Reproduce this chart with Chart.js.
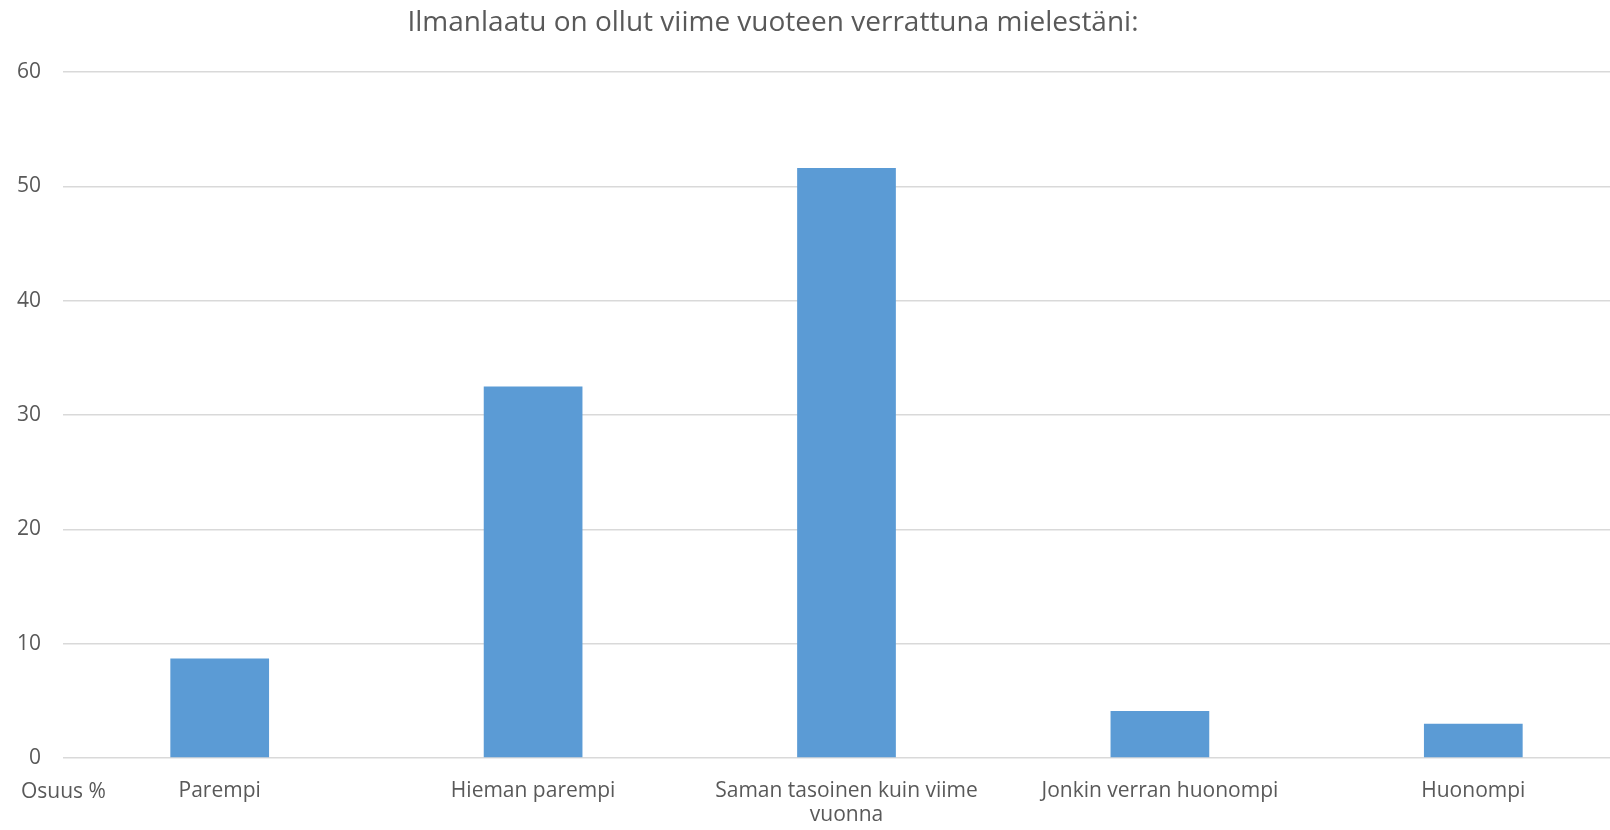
<!DOCTYPE html>
<html>
<head>
<meta charset="utf-8">
<script src="https://cdn.jsdelivr.net/npm/chart.js@4/dist/chart.umd.min.js"></script>
<style>
 html,body{margin:0;padding:0;background:#fff;overflow:hidden;}
 #wrap{width:1640px;height:830px;position:relative;}
</style>
</head>
<body>
<div id="wrap"><canvas id="chart"></canvas></div>
<script>
const categories=[
 "Parempi",
 "Hieman parempi",
 ["Saman tasoinen kuin viime","vuonna"],
 "Jonkin verran huonompi",
 "Huonompi"
];
const shares=[8.7,32.5,51.6,4.1,3.0];
const yTicks=[0,10,20,30,40,50,60];

const chartTitle="Ilmanlaatu on ollut viime vuoteen verrattuna mielestäni:";
const axisNote="Osuus %";

const textColor="#595959";
const fontFam="'Open Sans', sans-serif";

// title and axis note drawn by hand: the plot runs past the right edge,
// so the title is not centred on the canvas
const textPlugin={
 id:"extraText",
 afterDraw(c){
   const ctx=c.ctx;
   ctx.save();
   ctx.fillStyle=textColor;
   ctx.textBaseline="middle";
   ctx.font="28px "+fontFam;
   ctx.textAlign="center";
   ctx.fillText(chartTitle,773,23);
   ctx.font="21px "+fontFam;
   ctx.textAlign="left";
   ctx.fillText(axisNote,21,792);
   ctx.restore();
 }
};

new Chart(document.getElementById("chart"),{
 type:"bar",
 data:{
   labels:categories,
   datasets:[{
     label:"Osuus",
     data:shares,
     backgroundColor:"#5b9bd5",
     categoryPercentage:1,
     barPercentage:0.315
   }]
 },
 options:{
   responsive:true,
   maintainAspectRatio:false,
   animation:false,
   layout:{padding:{left:0,right:10,top:72,bottom:0}},
   plugins:{
     legend:{display:false},
     tooltip:{enabled:false},
     title:{display:false}
   },
   scales:{
     x:{
       afterFit:s=>{s.height=72;},
       grid:{display:false,drawTicks:false},
       border:{display:false},
       ticks:{
         color:textColor,
         font:{family:fontFam,size:21,lineHeight:1.15},
         padding:21,
         maxRotation:0,
         autoSkip:false
       }
     },
     y:{
       min:0,max:60,
       afterFit:s=>{s.width=63;},
       afterBuildTicks:s=>{s.ticks=yTicks.map(v=>({value:v}));},
       grid:{color:"#d9d9d9",lineWidth:1.5,drawTicks:false},
       border:{display:false},
       ticks:{
         color:textColor,
         font:{family:fontFam,size:21},
         padding:22
       }
     }
   }
 },
 plugins:[textPlugin]
});
</script>
</body>
</html>
